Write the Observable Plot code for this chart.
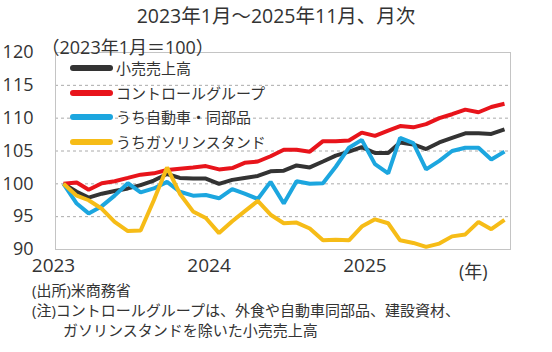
<!DOCTYPE html>
<html><head><meta charset="utf-8">
<script src="https://cdn.jsdelivr.net/npm/d3@7"></script>
<script src="https://cdn.jsdelivr.net/npm/@observablehq/plot@0.6"></script>
<style>
body{margin:0;background:#fff;font-family:"Open Sans","Noto Sans CJK JP",sans-serif;color:#333;}
#wrap{position:relative;width:552px;height:352px;overflow:hidden;}
#title{position:absolute;left:0;top:3px;width:552px;text-align:center;font-size:19.5px;line-height:26px;white-space:nowrap;}
#chart{position:absolute;left:0;top:32px;}
#legend{position:absolute;left:70px;top:56px;font-size:15px;}
.item{height:24.5px;line-height:24.5px;white-space:nowrap;display:flex;align-items:center;}
.sw{display:inline-block;width:43px;height:6px;border-radius:3px;margin-right:3px;}
#notes{position:absolute;left:32px;top:280px;font-size:15px;line-height:20px;white-space:nowrap;}
#notes .ind{padding-left:31px;}
</style>
</head><body>
<div id="wrap">
  <div id="title"></div>
  <div id="chart"></div>
  <div id="legend"></div>
  <div id="notes"></div>
</div>
<script>
const titleText = "2023年1月～2025年11月、月次";
const subtitleText = "（2023年1月＝100）";
const unitText = "(年)";
const noteLines = ["(出所)米商務省", "(注)コントロールグループは、外食や自動車同部品、建設資材、", "ガソリンスタンドを除いた小売売上高"];

const months = d3.utcMonth.range(new Date(Date.UTC(2023,0,1)), new Date(Date.UTC(2025,11,1)));
const seriesNames = ["小売売上高","コントロールグループ","うち自動車・同部品","うちガソリンスタンド"];
const seriesColors = ["#333333","#e8141b","#1ca6df","#f6bc17"];

const retail = [100,98.8,97.9,98.5,98.9,99.3,99.8,100.5,101.5,100.9,100.8,100.8,
  100.0,100.6,100.9,101.2,101.9,102.0,102.8,102.5,103.4,104.3,104.9,105.6,
  104.7,104.7,106.3,106.0,105.3,106.3,107.0,107.7,107.7,107.6,108.3];
const control = [100,100.2,99.1,100.1,100.4,100.9,101.4,101.6,102.1,102.3,102.5,102.7,
  102.2,102.4,103.2,103.4,104.2,105.2,105.2,104.9,106.5,106.5,106.6,107.8,
  107.3,108.1,108.8,108.6,109.1,110.0,110.6,111.3,110.9,111.7,112.2];
const autos = [100,97.0,95.5,96.6,98.2,100.1,98.7,99.3,100.3,98.8,98.2,98.3,
  97.8,99.2,98.5,97.7,100.3,97.0,100.4,100.0,100.1,102.6,105.5,106.7,
  103.0,101.6,107.0,106.2,102.2,103.5,105.0,105.5,105.5,103.7,104.9];
const gas = [100,98.2,97.5,96.2,94.2,92.8,92.9,97.5,102.5,98.5,95.8,94.8,
  92.5,94.3,95.8,97.4,95.3,94.0,94.1,93.2,91.4,91.5,91.4,93.5,
  94.6,94.0,91.4,91.0,90.4,90.9,92.0,92.3,94.2,93.1,94.5];
const yTicks = [90,95,100,105,110,115,120];
const yearTicks = [2023,2024,2025];

const seriesValues = [retail, control, autos, gas];
const rows = [];
seriesValues.forEach((arr,k)=>arr.forEach((v,i)=>rows.push({date:months[i], value:v, series:seriesNames[k]})));

document.getElementById("title").textContent = titleText;

const chart = Plot.plot({
  width:552, height:262,
  marginLeft:55, marginRight:42, marginTop:20, marginBottom:45,
  style:{fontFamily:'"Open Sans","Noto Sans CJK JP",sans-serif', color:"#333", background:"transparent"},
  x:{type:"utc", domain:[months[0], months[months.length-1]], insetLeft:8, insetRight:6},
  y:{domain:[90,120]},
  color:{domain:seriesNames, range:seriesColors},
  marks:[
    Plot.gridY(yTicks.slice(1,-1), {stroke:"#aaa", strokeOpacity:1, strokeDasharray:"3,3"}),
    Plot.frame({stroke:"#c4c4c4"}),
    Plot.axisY(yTicks, {tickSize:0, tickPadding:22, fontSize:18, label:null}),
    Plot.axisX(yearTicks.map(y=>new Date(Date.UTC(y,0,1))), {tickSize:0, tickPadding:9, fontSize:19, label:null, dx:-10, tickFormat:d3.utcFormat("%Y")}),
    Plot.line(rows, {x:"date", y:"value", z:"series", stroke:"series", strokeWidth:4, strokeLinejoin:"miter", strokeLinecap:"butt"}),
    Plot.text([subtitleText], {frameAnchor:"top-left", textAnchor:"start", dx:-14, dy:-11, fontSize:18, fill:"#333"}),
    Plot.text([unitText], {frameAnchor:"bottom-right", textAnchor:"end", dx:-23, dy:28, fontSize:18, fill:"#333"})
  ]
});
document.getElementById("chart").appendChild(chart);

const legend = document.getElementById("legend");
seriesNames.forEach((name,k)=>{
  const it = document.createElement("div"); it.className="item";
  const sw = document.createElement("span"); sw.className="sw"; sw.style.background=seriesColors[k];
  const tx = document.createElement("span"); tx.textContent=name;
  it.appendChild(sw); it.appendChild(tx); legend.appendChild(it);
});

const notes = document.getElementById("notes");
noteLines.forEach((t,i)=>{
  const d=document.createElement("div"); d.textContent=t; if(i===2) d.className="ind"; notes.appendChild(d);
});
</script>
</body></html>
